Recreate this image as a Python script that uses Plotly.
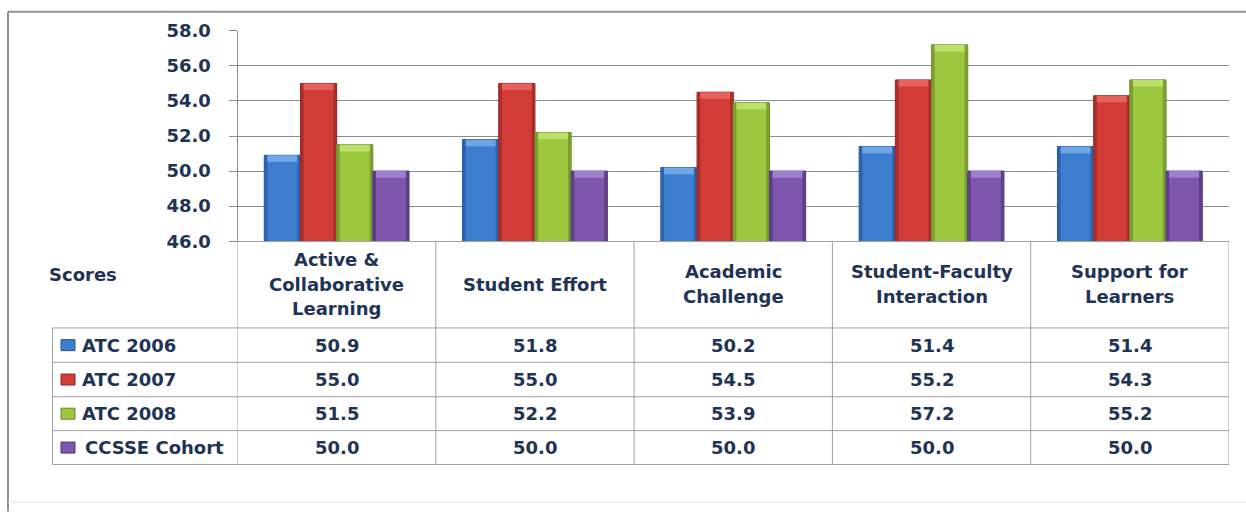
import plotly.graph_objects as go

# ---------------- data ----------------
categories = ["Active & Collaborative Learning", "Student Effort", "Academic Challenge",
              "Student-Faculty Interaction", "Support for Learners"]
header_lines = [["Active &", "Collaborative", "Learning"], ["Student Effort"], ["Academic", "Challenge"],
                ["Student-Faculty", "Interaction"], ["Support for", "Learners"]]
series_names = ["ATC 2006", "ATC 2007", "ATC 2008", "CCSSE Cohort"]
atc_2006 = [50.9, 51.8, 50.2, 51.4, 51.4]
atc_2007 = [55.0, 55.0, 54.5, 55.2, 54.3]
atc_2008 = [51.5, 52.2, 53.9, 57.2, 55.2]
ccsse_cohort = [50.0, 50.0, 50.0, 50.0, 50.0]
y_tick_values = [46.0, 48.0, 50.0, 52.0, 54.0, 56.0, 58.0]
row_label = "Scores"

series_values = [atc_2006, atc_2007, atc_2008, ccsse_cohort]
fill_colors = ["#3C7DD0", "#D23C37", "#9CC73F", "#7E56AD"]
cap_colors = ["#6FA6E6", "#E8625D", "#BDE06B", "#A07ECF"]
side_colors = ["#2D63AA", "#A82E2A", "#7AA02F", "#5F4087"]
edge_colors = ["#24528F", "#8E2522", "#66852A", "#4F3572"]

W = 1246
TOP, HV = 9.1, 494.5   # visible vertical extent of the page in the photograph
TEXT = "#1F3455"
GRID = "#8C8C8C"
TABLE = "#A0A0A8"
FONT = "DejaVu Sans"
FS = 18
GROUP_W = 0.73          # share of a category taken by the bar group
CAP = 0.38              # height of the bevel highlight, in axis units
SIDE = 0.016            # width of the shaded side strips, in category units


def px(x):
    return x / W


def py(y):
    return 1 - (y - TOP) / HV


fig = go.Figure()
bw = GROUP_W / len(series_names)
n = len(categories)
for k, (name, vals, fc, cc, sc, ec) in enumerate(
        zip(series_names, series_values, fill_colors, cap_colors, side_colors, edge_colors)):
    off = -GROUP_W / 2 + k * bw
    fig.add_trace(go.Bar(x=categories, y=vals, name=name, width=[bw] * n, offset=[off] * n,
                         marker=dict(color=fc, line=dict(color=ec, width=1)), hoverinfo="x+y+name"))
    # shaded sides
    for so in (off, off + bw - SIDE):
        fig.add_trace(go.Bar(x=categories, y=vals, width=[SIDE] * n, offset=[so] * n,
                             marker=dict(color=sc, line=dict(width=0)), hoverinfo="skip"))
    # top bevel
    fig.add_trace(go.Bar(x=categories, y=[CAP] * n, base=[v - CAP for v in vals],
                         width=[bw - 2 * SIDE] * n, offset=[off + SIDE] * n,
                         marker=dict(color=cc, line=dict(width=0)), hoverinfo="skip"))

shapes = []
annotations = []

# outer frame
shapes.append(dict(type="line", xref="paper", yref="paper", x0=px(8), x1=1, y0=py(9.8), y1=py(9.8),
                   line=dict(color="#8E939C", width=2)))
shapes.append(dict(type="line", xref="paper", yref="paper", x0=px(8), x1=px(8), y0=py(9.8), y1=py(511),
                   line=dict(color="#8E939C", width=2)))
shapes.append(dict(type="line", xref="paper", yref="paper", x0=px(8), x1=1, y0=py(502), y1=py(502),
                   line=dict(color="#E2E2E2", width=1)))

# table geometry (pixel rows)
header_top = 240
row_edges = [327, 361.5, 396, 430, 464]
table_left = 52.5

for i in range(len(categories) + 1):
    shapes.append(dict(type="line", xref="x", yref="paper", x0=i - 0.5, x1=i - 0.5,
                       y0=py(header_top), y1=py(row_edges[-1]), line=dict(color=TABLE, width=1)))
shapes.append(dict(type="line", xref="paper", yref="paper", x0=px(table_left), x1=px(table_left),
                   y0=py(row_edges[0]), y1=py(row_edges[-1]), line=dict(color=TABLE, width=1)))
for ry in row_edges:
    shapes.append(dict(type="line", xref="paper", yref="paper", x0=px(table_left), x1=px(1229),
                       y0=py(ry), y1=py(ry), line=dict(color=TABLE, width=1)))

# header cells
for cat, lines in zip(categories, header_lines):
    nl = len(lines)
    for k, line in enumerate(lines):
        cy = 283 + (k - (nl - 1) / 2) * 24.5
        annotations.append(dict(xref="x", yref="paper", x=cat, y=py(cy), text=line, showarrow=False,
                                xanchor="center", yanchor="middle",
                                font=dict(family=FONT, size=FS, color=TEXT, weight="bold")))
annotations.append(dict(xref="paper", yref="paper", x=px(47), y=py(273), text=row_label, showarrow=False,
                        xanchor="left", yanchor="middle",
                        font=dict(family=FONT, size=FS, color=TEXT, weight="bold")))

for r, (name, vals, fc, ec) in enumerate(zip(series_names, series_values, fill_colors, edge_colors)):
    cy = (row_edges[r] + row_edges[r + 1]) / 2
    shapes.append(dict(type="rect", xref="paper", yref="paper", x0=px(61), x1=px(75),
                       y0=py(cy + 5.5), y1=py(cy - 5.5), fillcolor=fc, line=dict(color=ec, width=1)))
    annotations.append(dict(xref="paper", yref="paper", x=px(80 if r < 3 else 83), y=py(cy), text=name,
                            showarrow=False, xanchor="left", yanchor="middle",
                            font=dict(family=FONT, size=FS, color=TEXT, weight="bold")))
    for cat, v in zip(categories, vals):
        annotations.append(dict(xref="x", yref="paper", x=cat, y=py(cy), text=f"{v:.1f}",
                                showarrow=False, xanchor="center", yanchor="middle",
                                font=dict(family=FONT, size=FS, color=TEXT, weight="bold")))

fig.update_layout(
    autosize=True,
    margin=dict(l=0, r=0, t=0, b=0),
    paper_bgcolor="white", plot_bgcolor="white",
    barmode="overlay",
    showlegend=False,
    shapes=shapes, annotations=annotations,
    xaxis=dict(domain=[px(237.5), px(1229)], range=[-0.5, 4.5], showticklabels=False,
               showgrid=False, showline=True, linecolor=TABLE, linewidth=1, ticks="", zeroline=False),
    yaxis=dict(domain=[py(240), py(29)], range=[46, 58], tickvals=y_tick_values, tickformat=".1f",
               showgrid=True, gridcolor=GRID, gridwidth=1, showline=True, linecolor=GRID, linewidth=1,
               ticks="outside", ticklen=8, tickcolor=GRID, ticklabelstandoff=14, zeroline=False,
               tickfont=dict(family=FONT, size=FS, color=TEXT, weight="bold")),
)

post = (
    "document.documentElement.style.margin='0';document.documentElement.style.height='100%';"
    "document.body.style.margin='0';document.body.style.height='100%';document.body.style.overflow='hidden';"
    "var gd=document.getElementById('{plot_id}');gd.style.width='100vw';gd.style.height='100vh';"
    "Plotly.Plots.resize(gd);"
)
fig.write_html("out.html", config={"displayModeBar": False, "responsive": True}, post_script=post)
